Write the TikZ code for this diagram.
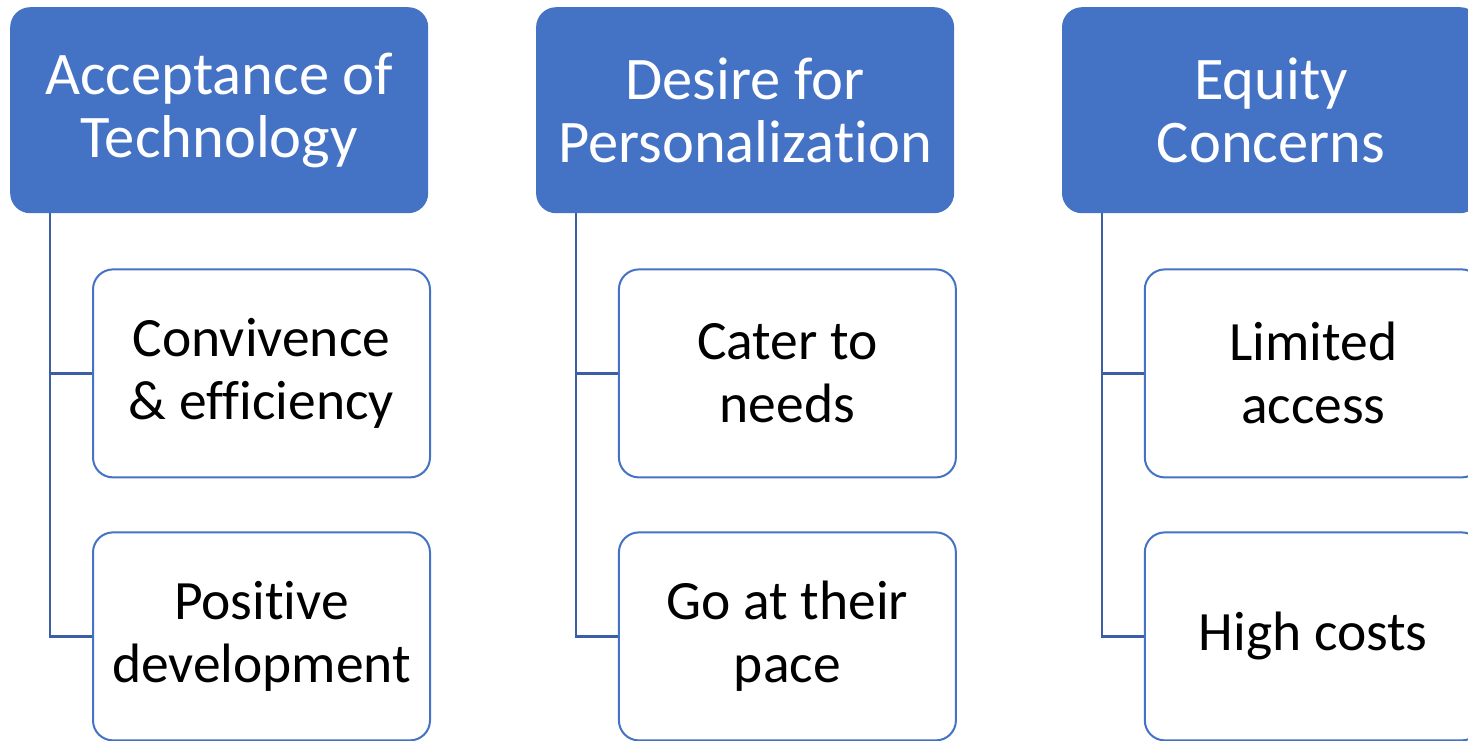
\documentclass[tikz,border=0pt]{standalone}
\usepackage{fontspec}
\setmainfont{Carlito}[Ligatures=NoCommon]
\usetikzlibrary{positioning,calc}
\definecolor{hdblue}{RGB}{68,114,196}
\definecolor{lnblue}{RGB}{59,94,166}
\newcommand\headfont{\fontsize{60.5}{63}\selectfont}
\newcommand\boxfont{\fontsize{55.5}{63}\selectfont}

\begin{document}
\begin{tikzpicture}
  [headN/.style={rectangle,rounded corners=20pt,fill=hdblue,text=white,
     minimum width=418pt,minimum height=206pt,align=center,font=\headfont},
   itemN/.style={rectangle,rounded corners=20pt,draw=hdblue,line width=2pt,
     fill=white,minimum width=337pt,minimum height=208pt,align=center,font=\boxfont},
   link/.style={draw=lnblue,line width=2.5pt},
   node distance=107.5pt]

  \useasboundingbox (0,0) rectangle (1468pt,-741pt);

  \node[headN,anchor=north west] (acc) at (10pt,-7pt) {Acceptance of\\Technology};
  \node[headN] (des) [right=of acc] {Desire for\\Personalization};
  \node[headN] (equ) [right=of des] {Equity\\Concerns};

  \node[itemN] (conv) [below right=55pt and 82pt of acc.south west] {Convivence\\\& efficiency};
  \node[itemN] (posi) [below=53pt of conv] {Positive\\development};
  \node[itemN] (cate) [below right=55pt and 82pt of des.south west] {Cater to\\needs};
  \node[itemN] (pace) [below=53pt of cate] {Go at their\\pace};
  \node[itemN] (limi) [below right=55pt and 82pt of equ.south west] {Limited\\access};
  \node[itemN] (cost) [below=53pt of limi] {High costs};

  \draw [link] ($(acc.south west)+(40pt,0)$) |- (conv.west);
  \draw [link] ($(acc.south west)+(40pt,0)$) |- (posi.west);
  \draw [link] ($(des.south west)+(40pt,0)$) |- (cate.west);
  \draw [link] ($(des.south west)+(40pt,0)$) |- (pace.west);
  \draw [link] ($(equ.south west)+(40pt,0)$) |- (limi.west);
  \draw [link] ($(equ.south west)+(40pt,0)$) |- (cost.west);

\end{tikzpicture}
\end{document}
